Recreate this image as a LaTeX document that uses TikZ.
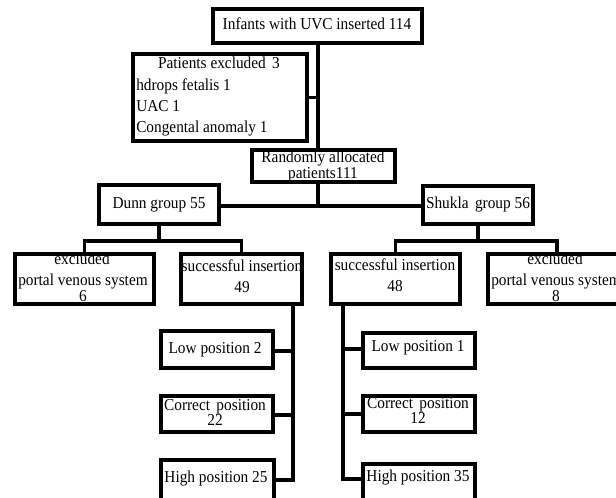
\documentclass[tikz,border=0pt]{standalone}
\usepackage{fontspec}
\setmainfont{Liberation Serif}
\usetikzlibrary{fit}
\newcommand{\sq}[1]{\scalebox{0.92}[1]{#1}}
\begin{document}
\begin{tikzpicture}[x=0.75pt,y=-0.75pt,
  box/.style={draw=black,line width=2.8pt,inner sep=0pt},
  conn/.style={draw=black,line width=2.3pt},
  txt/.style={inner sep=0pt,font=\fontsize{12.5}{14}\selectfont,text height=.7em,text depth=.2em}]
\path[use as bounding box,clip] (0,0) rectangle (616,497);
% boxes
\node[box,fit={(213,9) (422,43)}] (top) {};
\node[box,fit={(133,54) (307,141)}] (excl) {};
\node[box,fit={(252,150) (395,182)}] (rand) {};
\node[box,fit={(99,185) (219,224)}] (dunn) {};
\node[box,fit={(423,186) (533,224)}] (shukla) {};
\node[box,fit={(15,254) (154,304)}] (exclL) {};
\node[box,fit={(181,254) (302,304)}] (succL) {};
\node[box,fit={(331,254) (460,304)}] (succR) {};
\node[box,fit={(488,254) (626,304)}] (exclR) {};
\node[box,fit={(161,331) (273,368)}] (lowL) {};
\node[box,fit={(161,396) (273,432)}] (corrL) {};
\node[box,fit={(161,460) (274,512)}] (highL) {};
\node[box,fit={(363,333) (475,368)}] (lowR) {};
\node[box,fit={(363,396) (475,432)}] (corrR) {};
\node[box,fit={(363,464) (475,512)}] (highR) {};
% texts
\node[txt] (t-top) at (317,26) {\sq{Infants with UVC inserted 114}};
\node[txt] (t-ex1) at (219,65) {\sq{Patients excluded \,3}};
\node[txt,anchor=west] (t-ex2) at (136,87) {\sq{hdrops fetalis 1}};
\node[txt,anchor=west] (t-ex3) at (136,108) {\sq{UAC 1}};
\node[txt,anchor=west] (t-ex4) at (136,129) {\sq{Congental anomaly 1}};
\node[txt] (t-r1) at (323,159) {\sq{Randomly allocated}};
\node[txt] (t-r2) at (323,175) {\sq{patients111}};
\node[txt] (t-dunn) at (159,205) {\sq{Dunn group 55}};
\node[txt] (t-shukla) at (478,205) {\sq{Shukla \,group 56}};
\node[txt] (t-eL1) at (82,261) {\sq{excluded}};
\node[txt] (t-eL2) at (83,282) {\sq{portal venous system}};
\node[txt] (t-eL3) at (83,298) {\sq{6}};
\node[txt] (t-sL1) at (242,268) {\sq{successful insertion}};
\node[txt] (t-sL2) at (242,289) {\sq{49}};
\node[txt] (t-sR1) at (395,267) {\sq{successful insertion}};
\node[txt] (t-sR2) at (395,288) {\sq{48}};
\node[txt] (t-eR1) at (555,261) {\sq{excluded}};
\node[txt] (t-eR2) at (556,282) {\sq{portal venous system}};
\node[txt] (t-eR3) at (556,298) {\sq{8}};
\node[txt] (t-lowL) at (215,350) {\sq{Low position 2}};
\node[txt] (t-cL1) at (215,407) {\sq{Correct \,position}};
\node[txt] (t-cL2) at (215,422) {\sq{22}};
\node[txt] (t-hL) at (216,479) {\sq{High position 25}};
\node[txt] (t-lowR) at (418,348) {\sq{Low position 1}};
\node[txt] (t-cR1) at (418,405) {\sq{Correct \,position}};
\node[txt] (t-cR2) at (418,420) {\sq{12}};
\node[txt] (t-hR) at (418,478) {\sq{High position 35}};
% junction coordinates
\coordinate (jM) at (318,206);
\coordinate (jL) at (159,241);
\coordinate (jR) at (478,241);
\coordinate (vL) at (293,480);
\coordinate (vR) at (343,479);
% connectors
\draw[conn] (top.south -| jM) -- (rand.north -| jM);
\draw[conn] (excl.east) -- (excl.east -| jM);
\draw[conn] (rand.south -| jM) -- (jM);
\draw[conn] (dunn.east |- jM) -- (shukla.west |- jM);
\draw[conn] (dunn.south -| jL) -- (jL);
\draw[conn] (exclL.north) |- (jL) -| (succL.north);
\draw[conn] (shukla.south) -- (jR);
\draw[conn] (succR.north) |- (jR) -| (exclR.north);
\draw[conn] (succL.south -| vL) -- (vL) -- (vL -| highL.east);
\draw[conn] (lowL.east |- 0,351) -- (vL |- 0,351);
\draw[conn] (corrL.east |- 0,415) -- (vL |- 0,415);
\draw[conn] (succR.south -| vR) -- (vR) -- (vR -| highR.west);
\draw[conn] (lowR.west |- 0,349) -- (vR |- 0,349);
\draw[conn] (corrR.west |- 0,414) -- (vR |- 0,414);
\end{tikzpicture}
\end{document}
